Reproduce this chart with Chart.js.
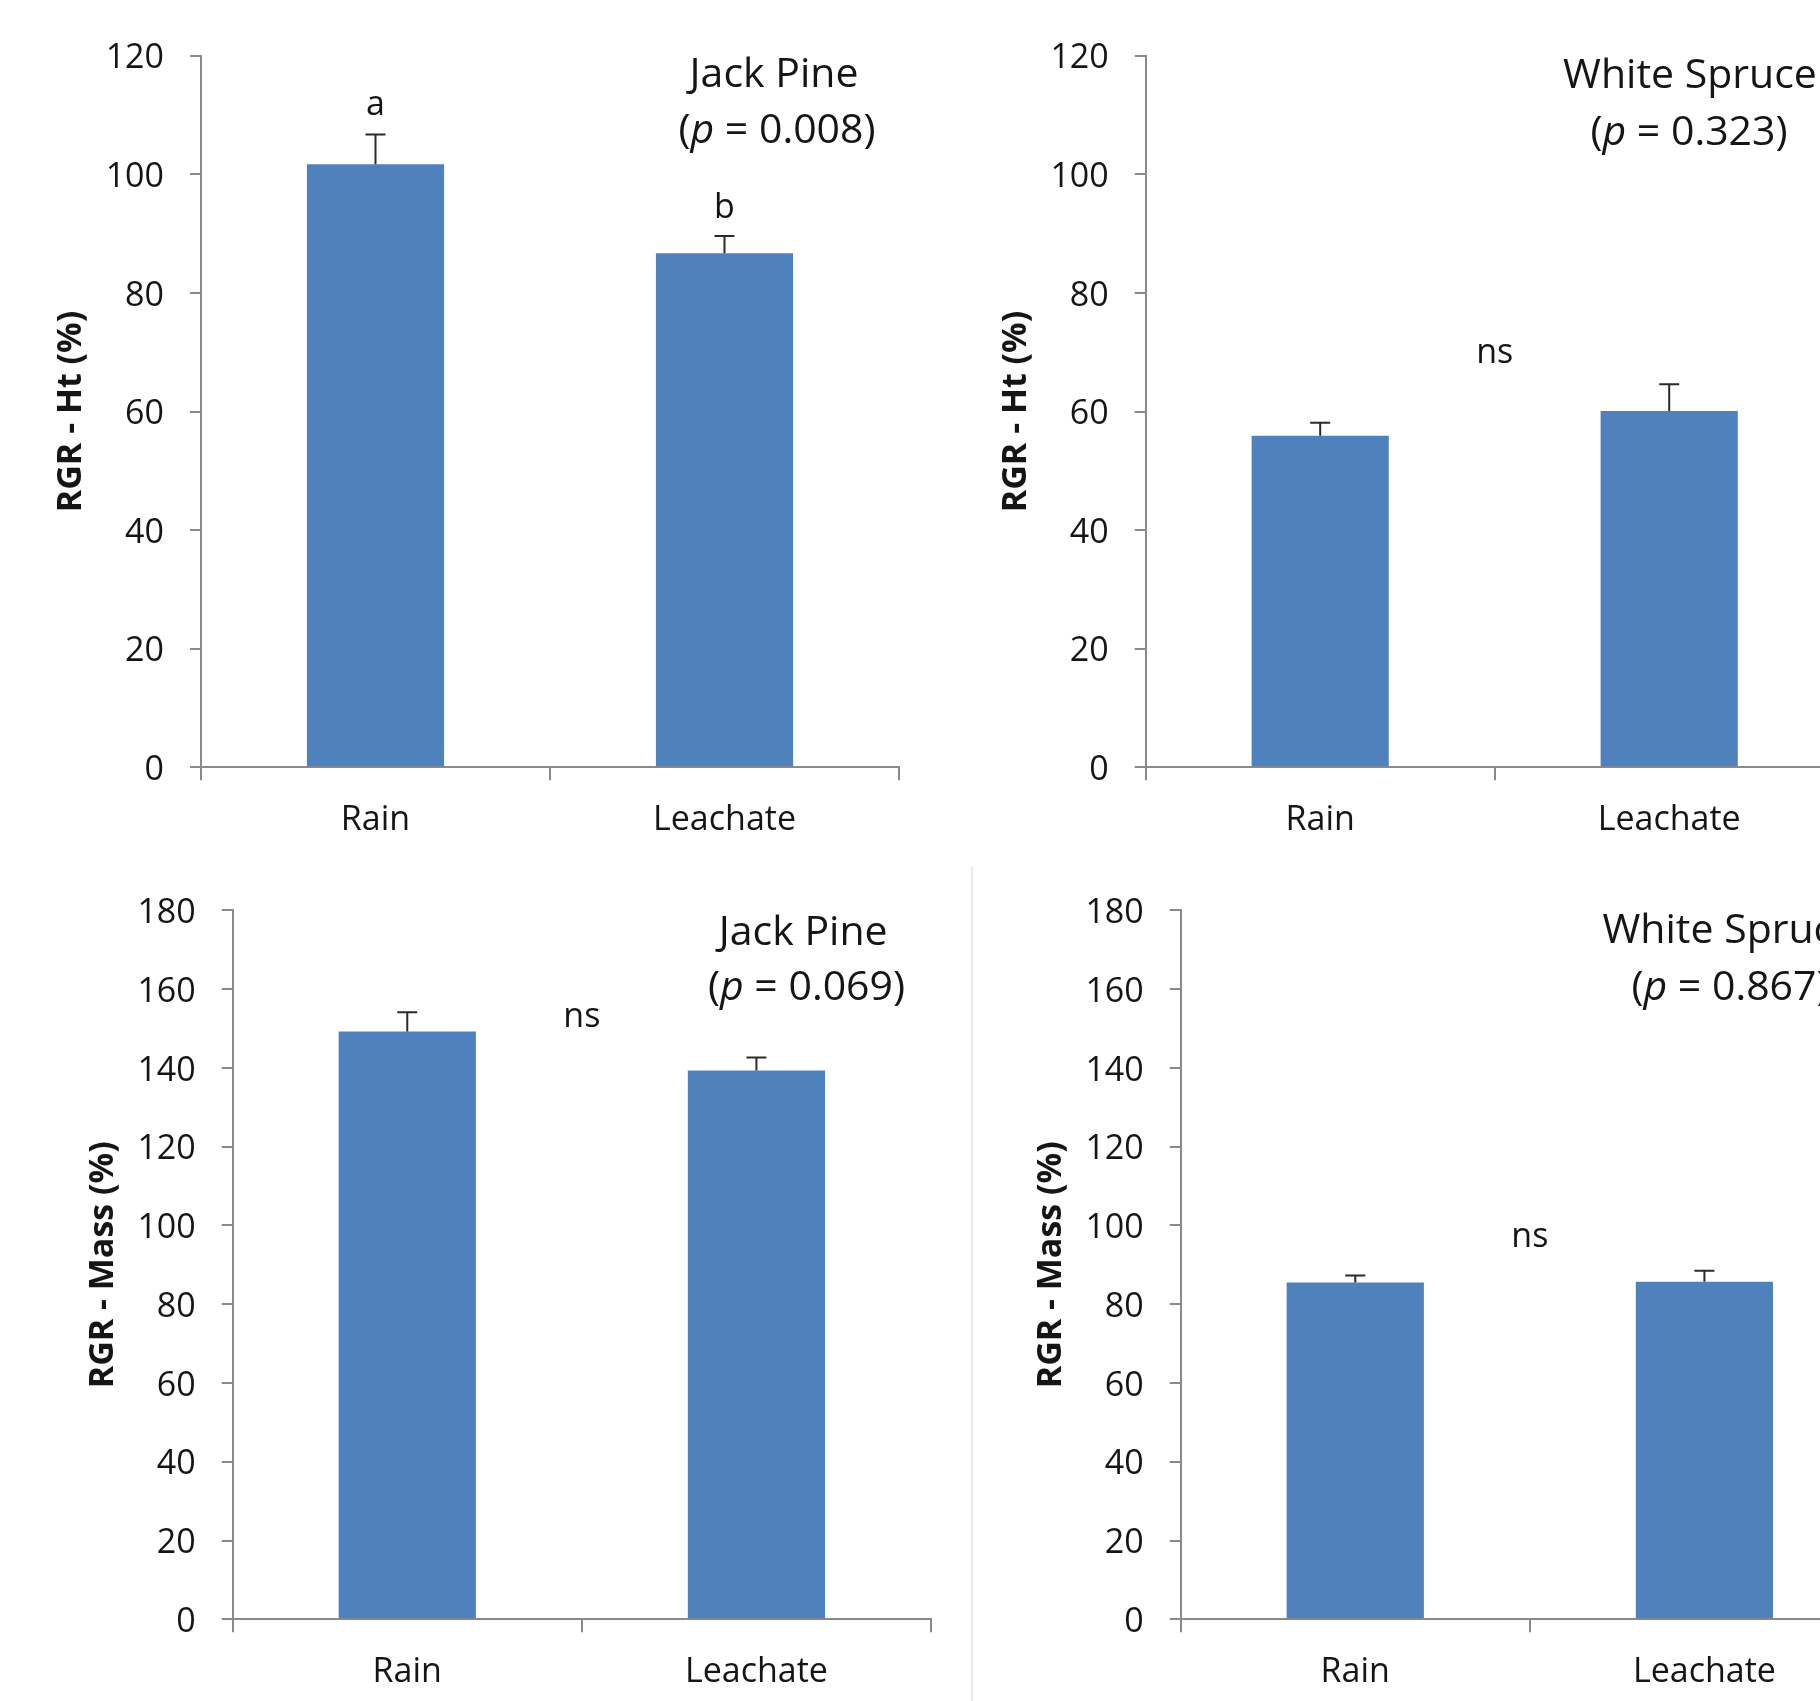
<!DOCTYPE html>
<html>
<head>
<meta charset="utf-8">
<script src="https://cdn.jsdelivr.net/npm/chart.js@4.4.1/dist/chart.umd.min.js"></script>
<style>
  html, body { margin: 0; padding: 0; background: #ffffff; width: 1820px; height: 1701px; overflow: hidden; position: relative; }
  canvas { position: absolute; display: block; }
</style>
</head>
<body>
<canvas id="c1" width="910" height="850" style="left:0px;top:0px;width:910px;height:850px"></canvas>
<canvas id="c2" width="1000" height="850" style="left:910px;top:0px;width:1000px;height:850px"></canvas>
<canvas id="c3" width="960" height="851" style="left:0px;top:850px;width:960px;height:851px"></canvas>
<canvas id="c4" width="1000" height="851" style="left:960px;top:850px;width:1000px;height:851px"></canvas>
<script>
// ---------------- data ----------------
const categories = ['Rain', 'Leachate'];

const jackPineHt = [101.7, 86.7];
const jackPineHtSE = [5.0, 2.9];
const jackPineHtLetters = ['a', 'b'];
const jackPineHtLetterY = [110.0, 92.6];

const whiteSpruceHt = [55.9, 60.1];
const whiteSpruceHtSE = [2.2, 4.5];

const jackPineMass = [149.2, 139.3];
const jackPineMassSE = [4.9, 3.3];

const whiteSpruceMass = [85.5, 85.7];
const whiteSpruceMassSE = [1.8, 2.8];

const htTicks = [0, 20, 40, 60, 80, 100, 120];
const massTicks = [0, 20, 40, 60, 80, 100, 120, 140, 160, 180];

const speciesNames = ['Jack Pine', 'White Spruce', 'Jack Pine', 'White Spruce'];
const pValues = ['0.008', '0.323', '0.069', '0.867'];
const yTitles = ['RGR - Ht (%)', 'RGR - Ht (%)', 'RGR - Mass (%)', 'RGR - Mass (%)'];
// position of the "ns" label: [category index, value]
const nsWhiteSpruceHt = [0.5, 68.1];
const nsJackPineMass = [0.5, 150.3];
const nsWhiteSpruceMass = [0.5, 94.6];

// ---------------- styles ----------------
const FONT = '"Open Sans", "Liberation Sans", sans-serif';
const BAR = '#4F81BD';
const AXIS = '#8a8a8a';
const TXT = '#151515';

function pText(ctx, cx, baseline, val) {
  const normal = '41px ' + FONT;
  const ital = 'italic 41px ' + FONT;
  const parts = [['(', normal], ['p', ital], [' = ' + val + ')', normal]];
  let total = 0;
  const widths = parts.map(p => { ctx.font = p[1]; const w = ctx.measureText(p[0]).width; total += w; return w; });
  let x = cx - total / 2;
  ctx.textAlign = 'left';
  ctx.textBaseline = 'alphabetic';
  parts.forEach((p, i) => { ctx.font = p[1]; ctx.fillText(p[0], x, baseline); x += widths[i]; });
}

function makePanel(id, cfg) {
  const annot = {
    id: 'annot' + id,
    afterDatasetsDraw(chart) {
      const ctx = chart.ctx;
      const xs = chart.scales.x, ys = chart.scales.y;
      ctx.save();
      // error bars (upper only)
      ctx.strokeStyle = '#2a2a2a';
      ctx.lineWidth = 2;
      cfg.values.forEach((v, i) => {
        const x = xs.getPixelForValue(i);
        const y0 = ys.getPixelForValue(v);
        const y1 = ys.getPixelForValue(v + cfg.se[i]);
        ctx.beginPath();
        ctx.moveTo(x, y0); ctx.lineTo(x, y1);
        ctx.moveTo(x - 10, y1); ctx.lineTo(x + 10, y1);
        ctx.stroke();
      });
      ctx.fillStyle = TXT;
      // letters
      if (cfg.letters) {
        ctx.font = '34px ' + FONT;
        ctx.textAlign = 'center';
        ctx.textBaseline = 'alphabetic';
        cfg.letters.forEach((t, i) => {
          ctx.fillText(t, xs.getPixelForValue(i), ys.getPixelForValue(cfg.letterY[i]));
        });
      }
      if (cfg.ns) {
        ctx.font = '34px ' + FONT;
        ctx.textAlign = 'center';
        ctx.textBaseline = 'alphabetic';
        const i0 = Math.floor(cfg.ns[0]);
        const xa = xs.getPixelForValue(i0), xb = xs.getPixelForValue(i0 + 1);
        const x = xa + (xb - xa) * (cfg.ns[0] - i0);
        ctx.fillText('ns', x, ys.getPixelForValue(cfg.ns[1]));
      }
      // species title
      ctx.font = '41px ' + FONT;
      ctx.textAlign = 'center';
      ctx.textBaseline = 'alphabetic';
      ctx.fillText(cfg.species, cfg.titlePos[0], cfg.titlePos[1]);
      pText(ctx, cfg.pPos[0], cfg.pPos[1], cfg.p);
      // separator line
      if (cfg.separator) {
        ctx.strokeStyle = '#e6e6e6';
        ctx.lineWidth = 1.5;
        ctx.beginPath();
        ctx.moveTo(cfg.separator[0], cfg.separator[1]);
        ctx.lineTo(cfg.separator[0], cfg.separator[2]);
        ctx.stroke();
      }
      ctx.restore();
    }
  };

  return new Chart(document.getElementById(id), {
    type: 'bar',
    data: {
      labels: categories,
      datasets: [{
        data: cfg.values,
        backgroundColor: BAR,
        borderWidth: 0,
        categoryPercentage: 1.0,
        barPercentage: 0.393
      }]
    },
    options: {
      responsive: false,
      animation: false,
      events: [],
      layout: { padding: cfg.padding },
      plugins: { legend: { display: false }, tooltip: { enabled: false }, title: { display: false } },
      scales: {
        x: {
          type: 'category',
          offset: true,
          grid: { display: true, offset: true, drawOnChartArea: false, drawTicks: true, tickLength: 13, color: AXIS, lineWidth: 2 },
          border: { display: true, color: AXIS, width: 2 },
          ticks: { color: TXT, font: { family: FONT, size: 34 }, padding: 20, maxRotation: 0 },
          afterFit(s) { s.height = 80; }
        },
        y: {
          min: cfg.ticks[0],
          max: cfg.ticks[cfg.ticks.length - 1],
          afterBuildTicks(s) { s.ticks = cfg.ticks.map(v => ({ value: v })); },
          grid: { display: true, drawOnChartArea: false, drawTicks: true, tickLength: 11, color: AXIS, lineWidth: 2 },
          border: { display: true, color: AXIS, width: 2 },
          ticks: { color: TXT, font: { family: FONT, size: 34 }, padding: 26, labelOffset: 3 },
          title: { display: true, text: cfg.yTitle, color: TXT, font: { family: FONT, size: 34, weight: 'bold' }, padding: { top: 10, bottom: 0 } },
          afterFit(s) { s.width = 160; }
        }
      }
    },
    plugins: [annot]
  });
}

makePanel('c1', {
  values: jackPineHt, se: jackPineHtSE, ticks: htTicks, yTitle: yTitles[0],
  letters: jackPineHtLetters, letterY: jackPineHtLetterY,
  species: speciesNames[0], p: pValues[0],
  titlePos: [774, 86.7], pPos: [777, 143.3],
  padding: { left: 41, top: 55.7, right: 11, bottom: 2.7 }
});
makePanel('c2', {
  values: whiteSpruceHt, se: whiteSpruceHtSE, ticks: htTicks, yTitle: yTitles[1],
  ns: nsWhiteSpruceHt,
  species: speciesNames[1], p: pValues[1],
  titlePos: [780, 88.3], pPos: [779, 145],
  padding: { left: 75.7, top: 55.7, right: 66.3, bottom: 2.7 }
});
makePanel('c3', {
  values: jackPineMass, se: jackPineMassSE, ticks: massTicks, yTitle: yTitles[2],
  ns: nsJackPineMass,
  species: speciesNames[2], p: pValues[2],
  titlePos: [803.2, 94.5], pPos: [806.5, 150],
  padding: { left: 72.7, top: 60.3, right: 29, bottom: 1.7 }
});
makePanel('c4', {
  values: whiteSpruceMass, se: whiteSpruceMassSE, ticks: massTicks, yTitle: yTitles[3],
  ns: nsWhiteSpruceMass,
  species: speciesNames[3], p: pValues[3],
  titlePos: [769.4, 93], pPos: [770, 150],
  separator: [12, 16, 851],
  padding: { left: 60.7, top: 60.3, right: 81, bottom: 1.7 }
});
</script>
</body>
</html>
